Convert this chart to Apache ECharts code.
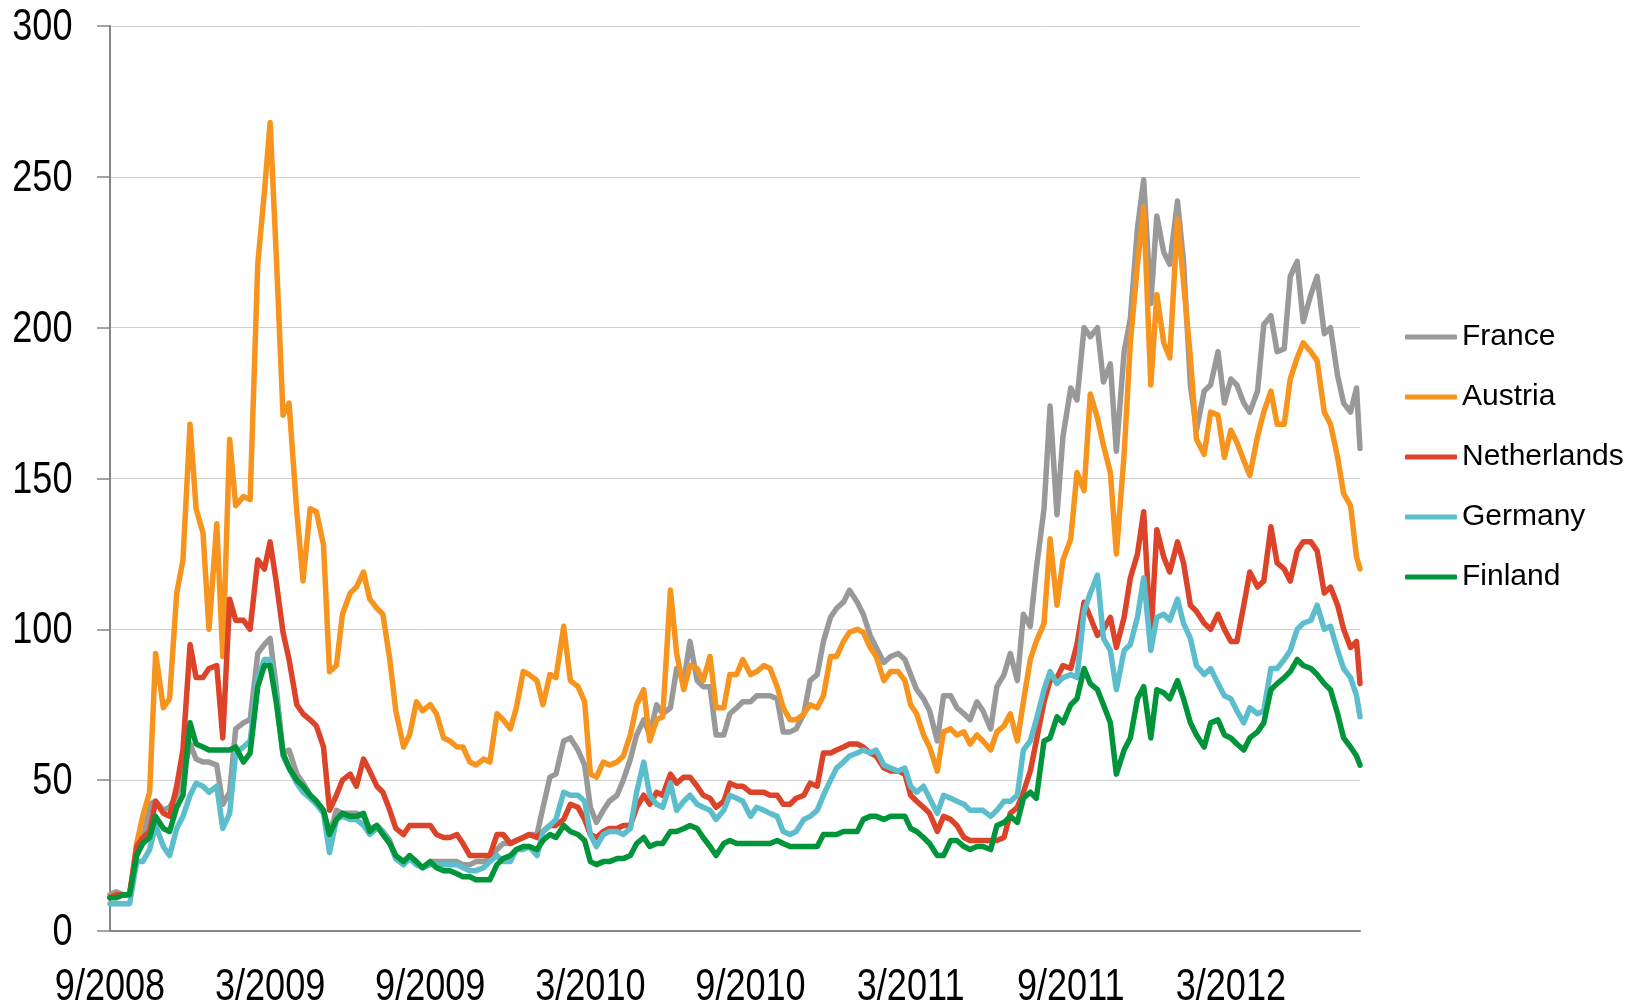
<!DOCTYPE html>
<html>
<head>
<meta charset="utf-8">
<script src="https://cdn.jsdelivr.net/npm/echarts@6/dist/echarts.min.js"></script>
<style>
  html, body { margin: 0; padding: 0; background: #ffffff; }
  #chart { width: 1642px; height: 1005px; }
</style>
</head>
<body>
<div id="chart"></div>
<script>
// Observation dates (roughly weekly), Sep 2008 - Jul 2012
const dates = [
  '2008-09-01','2008-09-08','2008-09-16','2008-09-23','2008-10-01','2008-10-08','2008-10-16','2008-10-23','2008-11-01','2008-11-08','2008-11-16','2008-11-23',
  '2008-12-01','2008-12-08','2008-12-16','2008-12-23','2009-01-01','2009-01-08','2009-01-16','2009-01-23','2009-02-01','2009-02-08','2009-02-16','2009-02-23',
  '2009-03-01','2009-03-08','2009-03-16','2009-03-23','2009-04-01','2009-04-08','2009-04-16','2009-04-23','2009-05-01','2009-05-08','2009-05-16','2009-05-23',
  '2009-06-01','2009-06-08','2009-06-16','2009-06-23','2009-07-01','2009-07-08','2009-07-16','2009-07-23','2009-08-01','2009-08-08','2009-08-16','2009-08-23',
  '2009-09-01','2009-09-08','2009-09-16','2009-09-23','2009-10-01','2009-10-08','2009-10-16','2009-10-23','2009-11-01','2009-11-08','2009-11-16','2009-11-23',
  '2009-12-01','2009-12-08','2009-12-16','2009-12-23','2010-01-01','2010-01-08','2010-01-16','2010-01-23','2010-02-01','2010-02-08','2010-02-16','2010-02-23',
  '2010-03-01','2010-03-08','2010-03-16','2010-03-23','2010-04-01','2010-04-08','2010-04-16','2010-04-23','2010-05-01','2010-05-08','2010-05-16','2010-05-23',
  '2010-06-01','2010-06-08','2010-06-16','2010-06-23','2010-07-01','2010-07-08','2010-07-16','2010-07-23','2010-08-01','2010-08-08','2010-08-16','2010-08-23',
  '2010-09-01','2010-09-08','2010-09-16','2010-09-23','2010-10-01','2010-10-08','2010-10-16','2010-10-23','2010-11-01','2010-11-08','2010-11-16','2010-11-23',
  '2010-12-01','2010-12-08','2010-12-16','2010-12-23','2011-01-01','2011-01-08','2011-01-16','2011-01-23','2011-02-01','2011-02-08','2011-02-16','2011-02-23',
  '2011-03-01','2011-03-08','2011-03-16','2011-03-23','2011-04-01','2011-04-08','2011-04-16','2011-04-23','2011-05-01','2011-05-08','2011-05-16','2011-05-23',
  '2011-06-01','2011-06-08','2011-06-16','2011-06-23','2011-07-01','2011-07-08','2011-07-16','2011-07-23','2011-08-01','2011-08-08','2011-08-16','2011-08-23',
  '2011-09-01','2011-09-08','2011-09-16','2011-09-23','2011-10-01','2011-10-08','2011-10-16','2011-10-23','2011-11-01','2011-11-08','2011-11-16','2011-11-23',
  '2011-12-01','2011-12-08','2011-12-16','2011-12-23','2012-01-01','2012-01-08','2012-01-16','2012-01-23','2012-02-01','2012-02-08','2012-02-16','2012-02-23',
  '2012-03-01','2012-03-08','2012-03-16','2012-03-23','2012-04-01','2012-04-08','2012-04-16','2012-04-23','2012-05-01','2012-05-08','2012-05-16','2012-05-23',
  '2012-06-01','2012-06-08','2012-06-16','2012-06-23','2012-07-01','2012-07-08','2012-07-16','2012-07-23','2012-07-27'
];

// Axis tick labels, one every six months from 9/2008
const tickLabels = ['9/2008', '3/2009', '9/2009', '3/2010', '9/2010', '3/2011', '9/2011', '3/2012'];
const yTickValues = [0, 50, 100, 150, 200, 250, 300];

// Spread values per country, aligned with `dates`
const france = [
  12, 13, 12, 12, 26, 29, 42, 43, 40, 41, 45, 52,
  62, 57, 56, 56, 55, 42, 46, 67, 69, 70, 92, 95,
  97, 81, 59, 60, 52, 49, 45, 43, 40, 32, 40, 39,
  39, 39, 38, 34, 35, 33, 30, 24, 22, 25, 22, 21,
  23, 23, 23, 23, 23, 22, 22, 23, 23, 24, 27, 29,
  29, 30, 31, 32, 32, 41, 51, 52, 63, 64, 60, 55,
  41, 36, 40, 43, 45, 50, 57, 65, 70, 65, 75, 72,
  74, 87, 83, 96, 83, 81, 81, 65, 65, 72, 74, 76,
  76, 78, 78, 78, 77, 66, 66, 67, 72, 83, 85, 96,
  104, 107, 109, 113, 109, 105, 98, 94, 89, 91, 92, 90,
  85, 80, 77, 73, 63, 78, 78, 74, 72, 70, 76, 73,
  67, 81, 85, 92, 83, 105, 101, 120, 140, 174, 138, 164,
  180, 176, 200, 197, 200, 182, 188, 159, 192, 203, 233, 249,
  208, 237, 225, 221, 242, 222, 181, 166, 179, 181, 192, 175,
  183, 181, 175, 172, 179, 201, 204, 192, 193, 217, 222, 202,
  211, 217, 198, 200, 184, 175, 172, 180, 160
];
const austria = [
  11, 12, 12, 12, 29, 38, 46, 92, 74, 77, 112, 123,
  168, 140, 132, 100, 135, 91, 163, 141, 144, 143, 221, 245,
  268, 225, 171, 175, 139, 116, 140, 139, 128, 86, 88, 105,
  112, 114, 119, 110, 107, 105, 90, 73, 61, 65, 76, 73,
  75, 72, 64, 63, 61, 61, 56, 55, 57, 56, 72, 70,
  67, 74, 86, 85, 83, 75, 85, 84, 101, 83, 81, 76,
  52, 51, 56, 55, 56, 58, 65, 75, 80, 63, 70, 71,
  113, 92, 80, 88, 87, 83, 91, 74, 74, 85, 85, 90,
  85, 86, 88, 87, 81, 74, 70, 70, 72, 75, 74, 78,
  91, 91, 96, 99, 100, 99, 94, 91, 83, 86, 86, 83,
  75, 72, 65, 61, 53, 66, 67, 65, 66, 62, 65, 63,
  60, 66, 68, 72, 63, 76, 90, 96, 102, 130, 108, 123,
  130, 152, 146, 178, 170, 161, 152, 125, 158, 195, 221, 240,
  181, 211, 195, 190, 236, 215, 190, 163, 158, 172, 171, 157,
  166, 162, 156, 151, 164, 172, 179, 168, 168, 183, 190, 195,
  192, 189, 172, 168, 157, 145, 141, 124, 120
];
const netherlands = [
  11, 12, 12, 12, 28, 31, 33, 43, 39, 38, 48, 60,
  95, 84, 84, 87, 88, 64, 110, 103, 103, 100, 123, 120,
  129, 116, 99, 90, 75, 72, 70, 68, 61, 40, 45, 50,
  52, 48, 57, 53, 48, 46, 40, 34, 32, 35, 35, 35,
  35, 32, 31, 31, 32, 29, 25, 25, 25, 25, 32, 32,
  29, 30, 31, 32, 31, 33, 35, 35, 37, 42, 41, 37,
  32, 31, 33, 34, 34, 35, 35, 41, 45, 42, 46, 45,
  52, 49, 51, 51, 48, 45, 44, 41, 43, 49, 48, 48,
  46, 46, 46, 45, 45, 42, 42, 44, 45, 49, 48, 59,
  59, 60, 61, 62, 62, 61, 59, 58, 54, 53, 53, 52,
  45, 43, 41, 39, 33, 38, 37, 35, 31, 30, 30, 30,
  30, 30, 31, 39, 41, 46, 53, 63, 76, 83, 84, 88,
  87, 95, 109, 104, 98, 100, 104, 94, 104, 117, 125, 139,
  97, 133, 124, 119, 129, 122, 108, 106, 102, 100, 105, 100,
  96, 96, 108, 119, 114, 116, 134, 122, 120, 116, 126, 129,
  129, 126, 112, 114, 108, 100, 94, 96, 82
];
const germany = [
  9, 9, 9, 9, 23, 23, 27, 35, 28, 25, 34, 38,
  45, 49, 48, 46, 48, 34, 39, 59, 61, 63, 84, 90,
  90, 78, 58, 54, 49, 46, 44, 42, 39, 26, 37, 38,
  37, 37, 35, 32, 34, 33, 29, 24, 22, 24, 22, 21,
  22, 22, 22, 22, 22, 21, 20, 20, 21, 23, 25, 23,
  23, 27, 27, 28, 25, 33, 35, 37, 46, 45, 45, 43,
  32, 28, 32, 33, 33, 32, 34, 46, 56, 45, 42, 41,
  49, 40, 43, 45, 42, 41, 40, 37, 40, 45, 44, 43,
  38, 41, 40, 39, 38, 33, 32, 33, 37, 38, 40, 45,
  50, 54, 56, 58, 59, 60, 59, 60, 55, 54, 53, 54,
  48, 46, 48, 44, 39, 45, 44, 43, 42, 40, 40, 40,
  38, 40, 43, 43, 45, 60, 63, 70, 80, 86, 82, 84,
  85, 84, 106, 112, 118, 97, 93, 80, 93, 95, 104, 117,
  93, 104, 105, 103, 110, 102, 97, 88, 85, 87, 82, 78,
  77, 73, 69, 74, 72, 73, 87, 87, 90, 93, 100, 102,
  103, 108, 100, 101, 93, 87, 84, 78, 71
];
const finland = [
  11, 11, 12, 12, 25, 29, 31, 38, 34, 33, 41, 45,
  69, 62, 61, 60, 60, 60, 60, 61, 56, 59, 81, 88,
  88, 76, 59, 54, 50, 48, 45, 43, 40, 32, 37, 39,
  38, 38, 39, 33, 35, 32, 29, 25, 23, 25, 23, 21,
  23, 21, 20, 20, 19, 18, 18, 17, 17, 17, 22, 24,
  25, 27, 28, 28, 27, 30, 32, 31, 35, 33, 32, 30,
  23, 22, 23, 23, 24, 24, 25, 29, 31, 28, 29, 29,
  33, 33, 34, 35, 34, 31, 28, 25, 29, 30, 29, 29,
  29, 29, 29, 29, 30, 29, 28, 28, 28, 28, 28, 32,
  32, 32, 33, 33, 33, 37, 38, 38, 37, 38, 38, 38,
  34, 33, 31, 29, 25, 25, 30, 30, 28, 27, 28, 28,
  27, 35, 36, 38, 36, 44, 46, 44, 63, 64, 71, 69,
  75, 77, 87, 82, 80, 75, 69, 52, 60, 64, 77, 81,
  64, 80, 79, 77, 83, 77, 69, 65, 61, 69, 70, 65,
  64, 62, 60, 64, 66, 69, 80, 82, 84, 86, 90, 88,
  87, 85, 82, 80, 72, 64, 61, 58, 55
];

// Months elapsed since 1 Sep 2008 (fractional), used as the x scale
function toMonths(s) {
  const [y, m, d] = s.split('-').map(Number);
  const daysInMonth = new Date(y, m, 0).getDate();
  return (y - 2008) * 12 + (m - 9) + (d - 1) / daysInMonth;
}
const xs = dates.map(toMonths);
const pairs = vals => vals.map((v, i) => [xs[i], v]);

const countries = [
  { name: 'France', values: france, color: '#999999' },
  { name: 'Austria', values: austria, color: '#F7941E' },
  { name: 'Netherlands', values: netherlands, color: '#DC4329' },
  { name: 'Germany', values: germany, color: '#5CBDCC' },
  { name: 'Finland', values: finland, color: '#00953A' }
];

const chart = echarts.init(document.getElementById('chart'), null, { renderer: 'canvas' });
chart.setOption({
  animation: false,
  backgroundColor: '#ffffff',
  grid: { left: 110, right: 282, top: 26, bottom: 74, containLabel: false },
  legend: {
    orient: 'vertical',
    left: 1405,
    top: 322,
    padding: 0,
    itemWidth: 52,
    itemHeight: 5,
    itemGap: 30,
    icon: 'roundRect',
    data: countries.map(c => c.name),
    textStyle: { fontFamily: '"Liberation Sans", Arial, sans-serif', fontSize: 30, lineHeight: 30, color: '#000000' }
  },
  xAxis: {
    type: 'value',
    min: 0,
    max: xs[xs.length - 1],
    interval: 6,
    splitLine: { show: false },
    axisTick: { show: false },
    axisLine: { show: true, lineStyle: { color: '#868686', width: 2 } },
    axisLabel: { show: false }
  },
  yAxis: {
    type: 'value',
    min: 0,
    max: 300,
    interval: 50,
    axisLine: { show: true, lineStyle: { color: '#868686', width: 2 } },
    axisTick: { show: true, inside: false, length: 13, lineStyle: { color: '#868686', width: 1.5 } },
    splitLine: { show: true, lineStyle: { color: '#d0d0d0', width: 1 } },
    axisLabel: { show: false }
  },
  series: countries.map(c => ({
    name: c.name,
    type: 'line',
    data: pairs(c.values),
    showSymbol: false,
    symbol: 'none',
    color: c.color,
    lineStyle: { color: c.color, width: 5.5, cap: 'round', join: 'round' },
    emphasis: { disabled: true }
  }))
});

// Tick labels in a condensed face: regular sans text squeezed horizontally,
// positioned from the chart's own axis scales.
const labelStyle = { fontSize: 44, fontFamily: '"Liberation Sans", Arial, sans-serif', fill: '#000000' };
const squeeze = 0.82;
const labels = [];
yTickValues.forEach(v => {
  const p = chart.convertToPixel({ gridIndex: 0 }, [0, v]);
  labels.push({
    type: 'text', x: p[0] - 37.5, y: p[1] + 2, scaleX: squeeze, silent: true,
    style: Object.assign({ text: String(v), align: 'right', verticalAlign: 'middle' }, labelStyle)
  });
});
tickLabels.forEach((t, i) => {
  const p = chart.convertToPixel({ gridIndex: 0 }, [i * 6, 0]);
  labels.push({
    type: 'text', x: p[0], y: p[1] + 57, scaleX: squeeze, silent: true,
    style: Object.assign({ text: t, align: 'center', verticalAlign: 'middle' }, labelStyle)
  });
});
chart.setOption({ graphic: { elements: labels } });
</script>
</body>
</html>
